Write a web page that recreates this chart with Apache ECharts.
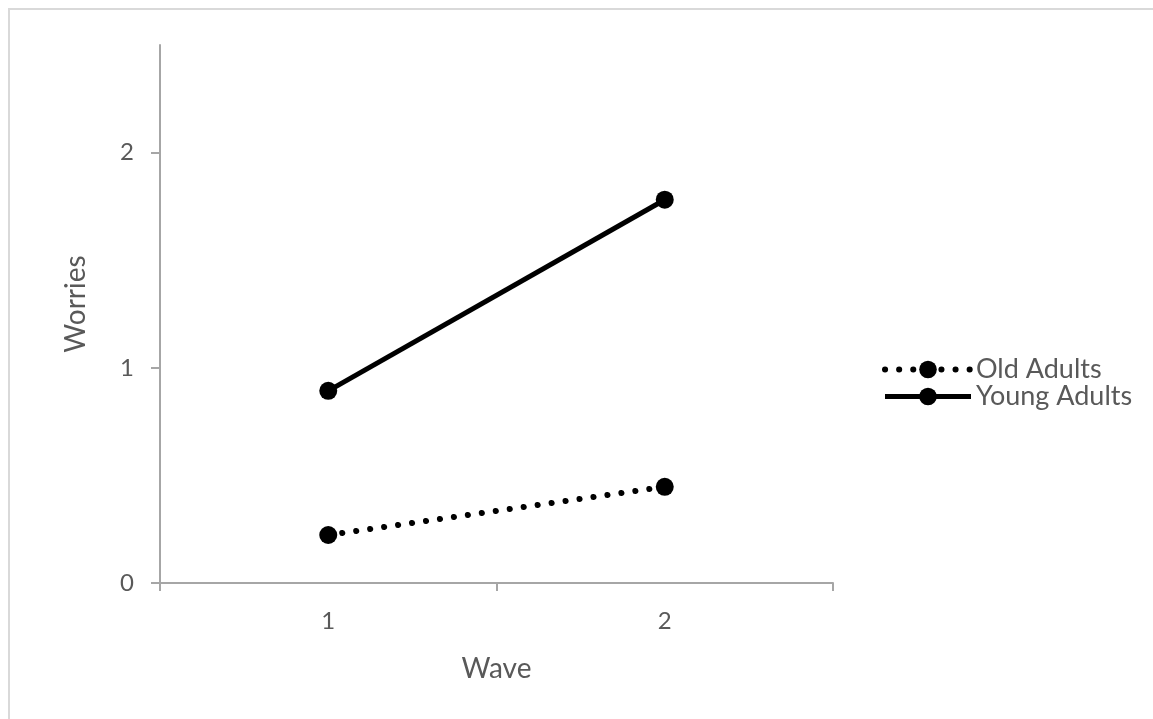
<!DOCTYPE html>
<html><head><meta charset="utf-8">
<script src="https://cdn.jsdelivr.net/npm/echarts@6/dist/echarts.min.js"></script>
<style>html,body{margin:0;padding:0;background:#fff}#c{width:1153px;height:719px}
#frame{position:absolute;left:8px;top:8px;width:1160px;height:720px;border:2px solid #d9d9d9;box-sizing:border-box;pointer-events:none}</style>
</head><body>
<div id="c"></div><div id="frame"></div>
<script>
var waves = ['1', '2'];
var oldAdults = [0.223, 0.447];
var youngAdults = [0.893, 1.781];
var yTicks = [0, 1, 2];

var font = 'Lato';
var chart = echarts.init(document.getElementById('c'));
chart.setOption({
  animation: false,
  textStyle: {fontFamily: font},
  grid: {left: 160, right: 320, top: 45, bottom: 136},
  legend: {
    orient: 'vertical', left: 882, top: 356, padding: 0, itemGap: 0, itemWidth: 86, itemHeight: 22,
    textStyle: {color: '#595959', fontSize: 27, lineHeight: 22, fontFamily: font},
    data: [
      {name: 'Old Adults', lineStyle: {width: 6, type: [0.1, 14], cap: 'round', color: '#000'}},
      {name: 'Young Adults', lineStyle: {width: 5, color: '#000'}}
    ]
  },
  xAxis: {
    type: 'category', data: waves, boundaryGap: true,
    name: 'Wave', nameLocation: 'middle', nameGap: 72,
    nameTextStyle: {color: '#595959', fontSize: 28},
    axisLine: {lineStyle: {color: '#a6a6a6', width: 2}},
    axisTick: {show: true, length: 8, lineStyle: {color: '#a6a6a6', width: 2}},
    axisLabel: {color: '#595959', fontSize: 24, margin: 26}
  },
  yAxis: {
    type: 'value', min: 0, max: 2.5, interval: 1,
    name: 'Worries', nameLocation: 'middle', nameGap: 70, nameRotate: 90,
    nameTextStyle: {color: '#595959', fontSize: 28, padding: [0, 0, 0, 20]},
    axisLine: {show: true, lineStyle: {color: '#a6a6a6', width: 2}},
    axisTick: {show: true, length: 9, customValues: yTicks, lineStyle: {color: '#a6a6a6', width: 2}},
    axisLabel: {color: '#595959', fontSize: 24, margin: 26, customValues: yTicks},
    splitLine: {show: false}
  },
  series: [
    {
      name: 'Old Adults', type: 'line', data: oldAdults,
      symbol: 'circle', symbolSize: 18,
      itemStyle: {color: '#000'},
      lineStyle: {color: '#000', width: 6, type: [0.1, 14], cap: 'round'}
    },
    {
      name: 'Young Adults', type: 'line', data: youngAdults,
      symbol: 'circle', symbolSize: 18,
      itemStyle: {color: '#000'},
      lineStyle: {color: '#000', width: 5}
    }
  ]
});
</script>
</body></html>
